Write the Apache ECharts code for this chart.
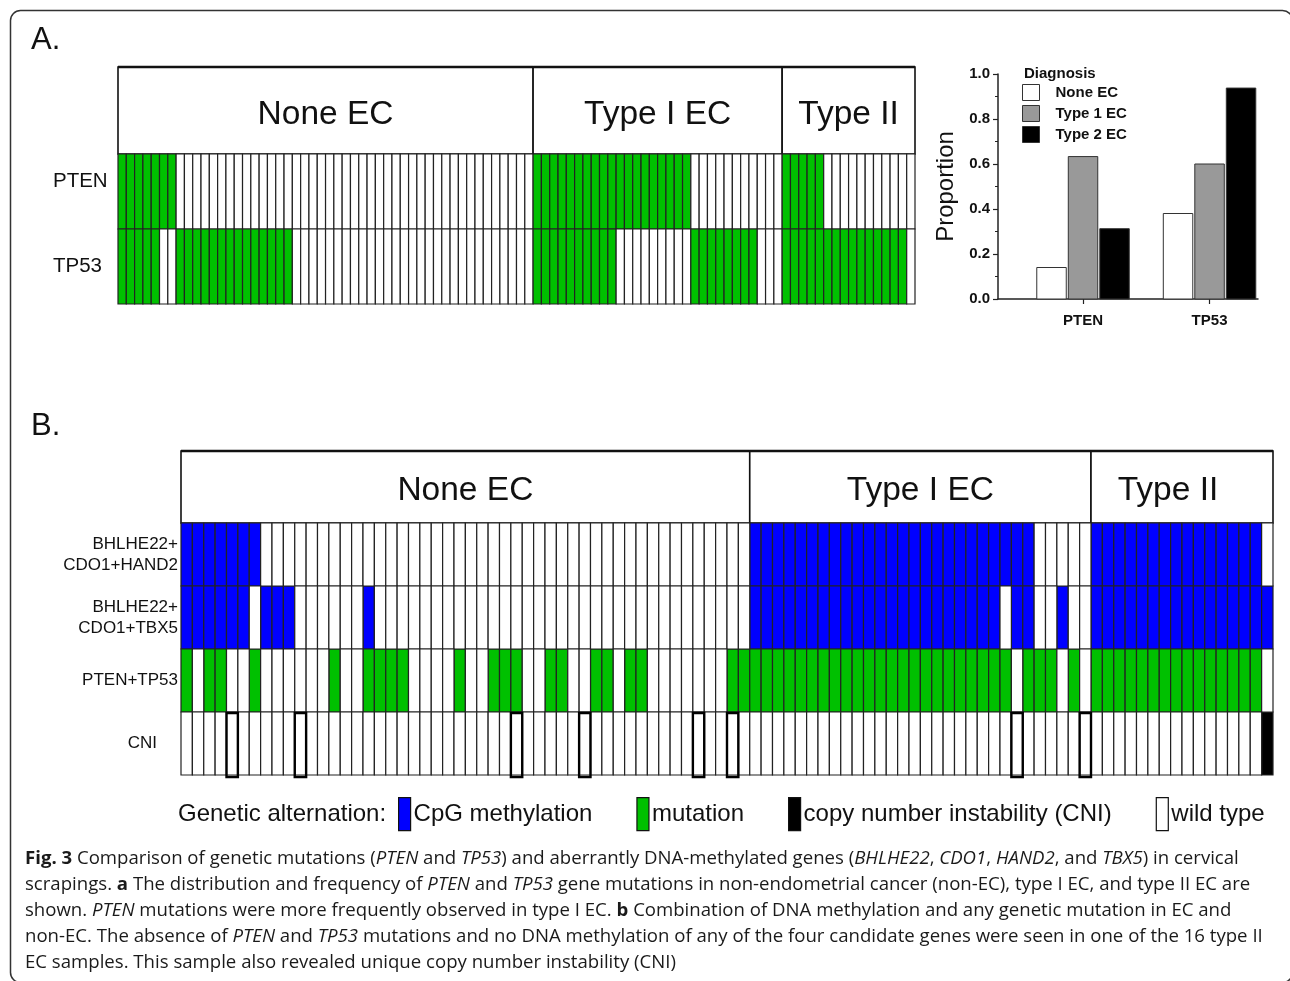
<!DOCTYPE html>
<html><head><meta charset="utf-8">
<script src="https://cdn.jsdelivr.net/npm/echarts@6/dist/echarts.min.js"></script>
<style>html,body{margin:0;padding:0;background:#fff}#c{width:1290px;height:981px}</style>
</head><body><div id="c"></div>
<script>
// ================= DATA =================
const groups = ['None EC', 'Type I EC', 'Type II'];
const groupSizes = [50, 30, 16];

// ---- Panel A: mutation status per sample (1 = mutation, 0 = wild type)
const genesA = ['PTEN', 'TP53'];
const ptenNone  = [1,1,1,1,1,1,1,0,0,0, 0,0,0,0,0,0,0,0,0,0, 0,0,0,0,0,0,0,0,0,0, 0,0,0,0,0,0,0,0,0,0, 0,0,0,0,0,0,0,0,0,0];
const ptenType1 = [1,1,1,1,1,1,1,1,1,1, 1,1,1,1,1,1,1,1,1,0, 0,0,0,0,0,0,0,0,0,0];
const ptenType2 = [1,1,1,1,1,0,0,0,0,0, 0,0,0,0,0,0];
const tp53None  = [1,1,1,1,1,0,0,1,1,1, 1,1,1,1,1,1,1,1,1,1, 1,0,0,0,0,0,0,0,0,0, 0,0,0,0,0,0,0,0,0,0, 0,0,0,0,0,0,0,0,0,0];
const tp53Type1 = [1,1,1,1,1,1,1,1,1,1, 0,0,0,0,0,0,0,0,0,1, 1,1,1,1,1,1,1,0,0,0];
const tp53Type2 = [1,1,1,1,1,1,1,1,1,1, 1,1,1,1,1,0];

// ---- Panel A bar chart: proportion mutated
const barGenes  = ['PTEN', 'TP53'];
const diagnoses = ['None EC', 'Type 1 EC', 'Type 2 EC'];
const propNone  = [0.14, 0.38];
const propType1 = [0.633, 0.60];
const propType2 = [0.3125, 0.9375];

// ---- Panel B: 0 = wild type, 1 = CpG methylation, 2 = mutation, 3 = CNI
const rowsB = ['BHLHE22+\nCDO1+HAND2', 'BHLHE22+\nCDO1+TBX5', 'PTEN+TP53', 'CNI'];
const hand2None  = [1,1,1,1,1,1,1,0,0,0, 0,0,0,0,0,0,0,0,0,0, 0,0,0,0,0,0,0,0,0,0, 0,0,0,0,0,0,0,0,0,0, 0,0,0,0,0,0,0,0,0,0];
const hand2Type1 = [1,1,1,1,1,1,1,1,1,1, 1,1,1,1,1,1,1,1,1,1, 1,1,1,1,1,0,0,0,0,0];
const hand2Type2 = [1,1,1,1,1,1,1,1,1,1, 1,1,1,1,1,0];
const tbx5None   = [1,1,1,1,1,1,0,1,1,1, 0,0,0,0,0,0,1,0,0,0, 0,0,0,0,0,0,0,0,0,0, 0,0,0,0,0,0,0,0,0,0, 0,0,0,0,0,0,0,0,0,0];
const tbx5Type1  = [1,1,1,1,1,1,1,1,1,1, 1,1,1,1,1,1,1,1,1,1, 1,1,0,1,1,0,0,1,0,0];
const tbx5Type2  = [1,1,1,1,1,1,1,1,1,1, 1,1,1,1,1,1];
const mutNone    = [2,0,2,2,0,0,2,0,0,0, 0,0,0,2,0,0,2,2,2,2, 0,0,0,0,2,0,0,2,2,2, 0,0,2,2,0,0,2,2,0,2, 2,0,0,0,0,0,0,0,2,2];
const mutType1   = [2,2,2,2,2,2,2,2,2,2, 2,2,2,2,2,2,2,2,2,2, 2,2,2,0,2,2,2,0,2,0];
const mutType2   = [2,2,2,2,2,2,2,2,2,2, 2,2,2,2,2,0];
const cniNone    = [0,0,0,0,0,0,0,0,0,0, 0,0,0,0,0,0,0,0,0,0, 0,0,0,0,0,0,0,0,0,0, 0,0,0,0,0,0,0,0,0,0, 0,0,0,0,0,0,0,0,0,0];
const cniType1   = [0,0,0,0,0,0,0,0,0,0, 0,0,0,0,0,0,0,0,0,0, 0,0,0,0,0,0,0,0,0,0];
const cniType2   = [0,0,0,0,0,0,0,0,0,0, 0,0,0,0,0,3];
// samples drawn with a bold outline in the CNI row
const cniOutlined = [4, 10, 29, 35, 45, 48, 73, 79];

const statesB = ['CpG methylation', 'mutation', 'copy number instability (CNI)', 'wild type'];
const stateCodes = [1, 2, 3, 0];

// ================= BUILD =================
const FONT = "'Liberation Sans', Arial, sans-serif";
const GREEN = '#00c000', BLUE = '#0000ff', LINE = '#222';
const stateColors = [BLUE, GREEN, '#000000', '#ffffff'];
const barColors = ['#ffffff', '#999999', '#000000'];

const starts = [0];
groupSizes.forEach(v => starts.push(starts[starts.length - 1] + v));
const N = starts[starts.length - 1];
const headerData = groupSizes.map((n, i) => [starts[i], starts[i + 1], 0.5]);

const rowsA = [ptenNone.concat(ptenType1, ptenType2), tp53None.concat(tp53Type1, tp53Type2)];
const rowsBVals = [
  hand2None.concat(hand2Type1, hand2Type2),
  tbx5None.concat(tbx5Type1, tbx5Type2),
  mutNone.concat(mutType1, mutType2),
  cniNone.concat(cniType1, cniType2)
];

const cellsA = [];
rowsA.forEach((row, r) => row.forEach((v, c) => cellsA.push([c, r, v])));

function cellShape(api) {
  const c = api.value(0), r = api.value(1);
  const p = api.coord([c, r]);
  const q = api.coord([c + 1, r]);
  const h = api.size([0, 1])[1];
  return { x: p[0], y: p[1] - h / 2, width: q[0] - p[0], height: h };
}

function headerRender(fontSize, offsets) {
  return function (params, api) {
    const i = params.dataIndex;
    const a = api.coord([api.value(0), 1]);
    const b = api.coord([api.value(1), 0]);
    return { type: 'group', children: [
      { type: 'rect', shape: { x: a[0], y: a[1], width: b[0] - a[0], height: b[1] - a[1] },
        style: { fill: '#fff', stroke: '#111', lineWidth: 1.6 } },
      { type: 'line', shape: { x1: a[0], y1: a[1], x2: b[0], y2: a[1] },
        style: { stroke: '#111', lineWidth: 2.6 } },
      { type: 'text', style: { text: groups[i], x: (a[0] + b[0]) / 2 + (offsets[i] || 0), y: (a[1] + b[1]) / 2 + 4,
        align: 'center', verticalAlign: 'middle', fontSize: fontSize, fontFamily: FONT, fill: '#111' } }
    ] };
  };
}

const series = [];
// Panel A header
series.push({ type: 'custom', xAxisIndex: 0, yAxisIndex: 0, silent: true, data: headerData,
  encode: { x: [0, 1], y: 2 }, renderItem: headerRender(33.5, [0, 0, 0]) });
// Panel A cells
series.push({ type: 'custom', xAxisIndex: 1, yAxisIndex: 1, silent: true, data: cellsA,
  encode: { x: 0, y: 1 },
  renderItem: (params, api) => ({ type: 'rect', shape: cellShape(api),
    style: { fill: api.value(2) ? GREEN : '#fff', stroke: LINE, lineWidth: 1.2 } }) });
// Panel A bars
[propNone, propType1, propType2].forEach((vals, k) => {
  series.push({ type: 'custom', name: diagnoses[k], xAxisIndex: 2, yAxisIndex: 2, silent: true,
    itemStyle: { color: barColors[k], borderColor: '#333', borderWidth: 1 },
    data: vals.map((v, i) => [i + 1, v]), encode: { x: 0, y: 1 },
    renderItem: (params, api) => {
      const x = api.value(0), y = api.value(1);
      const unit = api.size([1, 0])[0];
      const base = api.coord([x, 0]), top = api.coord([x, y]);
      const w = 0.233 * unit, cx = base[0] + (k - 1) * 0.249 * unit;
      return { type: 'rect', shape: { x: cx - w / 2, y: top[1], width: w, height: base[1] - top[1] },
        style: { fill: barColors[k], stroke: '#333', lineWidth: 1 } };
    } });
});
// Panel B header
series.push({ type: 'custom', xAxisIndex: 3, yAxisIndex: 3, silent: true, data: headerData,
  encode: { x: [0, 1], y: 2 }, renderItem: headerRender(33.5, [0, 0, -14]) });
// Panel B cells, one series per state
statesB.forEach((name, k) => {
  const code = stateCodes[k];
  const data = [];
  rowsBVals.forEach((row, r) => row.forEach((v, c) => { if (v === code) data.push([c, r]); }));
  series.push({ type: 'custom', name: name, xAxisIndex: 4, yAxisIndex: 4, silent: true, data: data,
    itemStyle: { color: stateColors[k], borderColor: '#111', borderWidth: 1.2 },
    encode: { x: 0, y: 1 },
    renderItem: (params, api) => ({ type: 'rect', shape: cellShape(api),
      style: { fill: stateColors[k], stroke: LINE, lineWidth: 1.2 } }) });
});
// bold outlines in CNI row
series.push({ type: 'custom', xAxisIndex: 4, yAxisIndex: 4, silent: true, z: 5,
  data: cniOutlined.map(c => [c, 3]), encode: { x: 0, y: 1 },
  renderItem: (params, api) => {
    const s = cellShape(api);
    return { type: 'rect', shape: { x: s.x, y: s.y + 1, width: s.width, height: s.height + 1 },
      style: { fill: 'none', stroke: '#000', lineWidth: 2.4 } };
  } });

const hiddenVal = (min, max, grid) => ({ type: 'value', gridIndex: grid, min: min, max: max, show: false });

const captionLines = [
  '{b|Fig. 3} Comparison of genetic mutations ({i|PTEN} and {i|TP53}) and aberrantly DNA-methylated genes ({i|BHLHE22}, {i|CDO1}, {i|HAND2}, and {i|TBX5}) in cervical',
  'scrapings. {b|a} The distribution and frequency of {i|PTEN} and {i|TP53} gene mutations in non-endometrial cancer (non-EC), type I EC, and type II EC are',
  'shown. {i|PTEN} mutations were more frequently observed in type I EC. {b|b} Combination of DNA methylation and any genetic mutation in EC and',
  'non-EC. The absence of {i|PTEN} and {i|TP53} mutations and no DNA methylation of any of the four candidate genes were seen in one of the 16 type II',
  'EC samples. This sample also revealed unique copy number instability (CNI)'
];
const CAP_FONT = "'Open Sans', 'Noto Sans', sans-serif";
const CAP_SIZE = 18.6, CAP_COL = '#1a1a1a';
const captionGraphics = captionLines.map((t, i) => ({
  type: 'text', left: 25, top: 849 + i * 26, silent: true,
  style: { text: t, fontSize: CAP_SIZE, fontFamily: CAP_FONT, fill: CAP_COL,
    rich: {
      b: { fontWeight: 'bold', fontSize: CAP_SIZE, fontFamily: CAP_FONT, fill: CAP_COL },
      i: { fontStyle: 'italic', fontSize: CAP_SIZE, fontFamily: CAP_FONT, fill: CAP_COL }
    } }
}));

const G = (o) => Object.assign({ outerBoundsMode: 'none', containLabel: false }, o);

const option = {
  animation: false,
  backgroundColor: '#fff',
  textStyle: { fontFamily: FONT },
  title: [
    { text: 'A.', left: 26, top: 20, textStyle: { fontSize: 31, fontWeight: 'normal', color: '#111', fontFamily: FONT } },
    { text: 'B.', left: 26, top: 406, textStyle: { fontSize: 31, fontWeight: 'normal', color: '#111', fontFamily: FONT } },
    { text: 'Diagnosis', left: 1019, top: 61, textStyle: { fontSize: 15, fontWeight: 'bold', color: '#111', fontFamily: FONT } },
    { text: 'Genetic alternation:', left: 173, top: 797, textStyle: { fontSize: 24, fontWeight: 'normal', color: '#111', fontFamily: FONT } }
  ],
  legend: [
    { data: diagnoses, orient: 'vertical', left: 1017, top: 79, icon: 'rect', itemWidth: 17, itemHeight: 16,
      itemGap: 4, selectedMode: false,
      itemStyle: { borderColor: '#333', borderWidth: 1 },
      textStyle: { fontSize: 15, fontWeight: 'bold', color: '#111', fontFamily: FONT, padding: [0, 0, 0, 11] } },
    { data: statesB, orient: 'horizontal', left: 393, top: 792, icon: 'rect', itemWidth: 12, itemHeight: 33,
      itemGap: 44, selectedMode: false,
      itemStyle: { borderColor: '#111', borderWidth: 1.2 },
      textStyle: { fontSize: 24, color: '#111', fontFamily: FONT, padding: [0, 0, 0, -2] } }
  ],
  grid: [
    G({ left: 118, top: 67, width: 797, height: 87 }),
    G({ left: 118, top: 154, width: 797, height: 150 }),
    G({ left: 998, top: 74, width: 260, height: 225 }),
    G({ left: 181, top: 451, width: 1092, height: 72 }),
    G({ left: 181, top: 523, width: 1092, height: 252 })
  ],
  xAxis: [
    hiddenVal(0, N, 0),
    hiddenVal(0, N, 1),
    { type: 'value', gridIndex: 2, min: 0.328, max: 2.383,
      axisLine: { show: true, lineStyle: { color: '#222', width: 1.5 } },
      axisTick: { show: true, customValues: [1, 2], length: 5, lineStyle: { color: '#222', width: 1.2 } },
      axisLabel: { customValues: [1, 2], formatter: v => barGenes[Math.round(v) - 1], fontSize: 15,
        fontWeight: 'bold', color: '#111', margin: 14, fontFamily: FONT },
      splitLine: { show: false } },
    hiddenVal(0, N, 3),
    hiddenVal(0, N, 4)
  ],
  yAxis: [
    hiddenVal(0, 1, 0),
    { type: 'category', gridIndex: 1, inverse: true,
      data: [{ value: genesA[0], textStyle: { verticalAlign: 'bottom', align: 'left', fontSize: 20.5, color: '#111', fontFamily: FONT } }, genesA[1]],
      axisLine: { show: false }, axisTick: { show: false }, splitLine: { show: false },
      axisLabel: { align: 'left', margin: 65, fontSize: 20.5, color: '#111', fontFamily: FONT } },
    { type: 'value', gridIndex: 2, min: 0, max: 1, interval: 0.2,
      name: 'Proportion', nameLocation: 'middle', nameGap: 40,
      nameTextStyle: { fontSize: 24, color: '#111', fontFamily: FONT },
      axisLine: { show: true, lineStyle: { color: '#222', width: 1.5 } },
      axisTick: { show: true, length: 5, lineStyle: { color: '#222', width: 1.2 } },
      minorTick: { show: true, splitNumber: 2, length: 3, lineStyle: { color: '#222', width: 1 } },
      axisLabel: { formatter: v => v.toFixed(1), fontSize: 15, fontWeight: 'bold', color: '#111', margin: 8, fontFamily: FONT },
      splitLine: { show: false } },
    hiddenVal(0, 1, 3),
    { type: 'category', gridIndex: 4, inverse: true,
      data: rowsB.map(r => r === 'CNI' ? { value: r, textStyle: { padding: [0, 21, 0, 0] } } : r),
      axisLine: { show: false }, axisTick: { show: false }, splitLine: { show: false },
      axisLabel: { align: 'right', margin: 3, fontSize: 17, lineHeight: 21, color: '#111', fontFamily: FONT } }
  ],
  graphic: [
    { type: 'rect', silent: true, z: -1, shape: { x: 10.5, y: 10.5, width: 1282, height: 972, r: 10 },
      style: { fill: 'none', stroke: '#333', lineWidth: 1.5 } }
  ].concat(captionGraphics),
  series: series
};

const chart = echarts.init(document.getElementById('c'), null, { renderer: 'canvas' });
chart.setOption(option);
</script>
</body></html>
